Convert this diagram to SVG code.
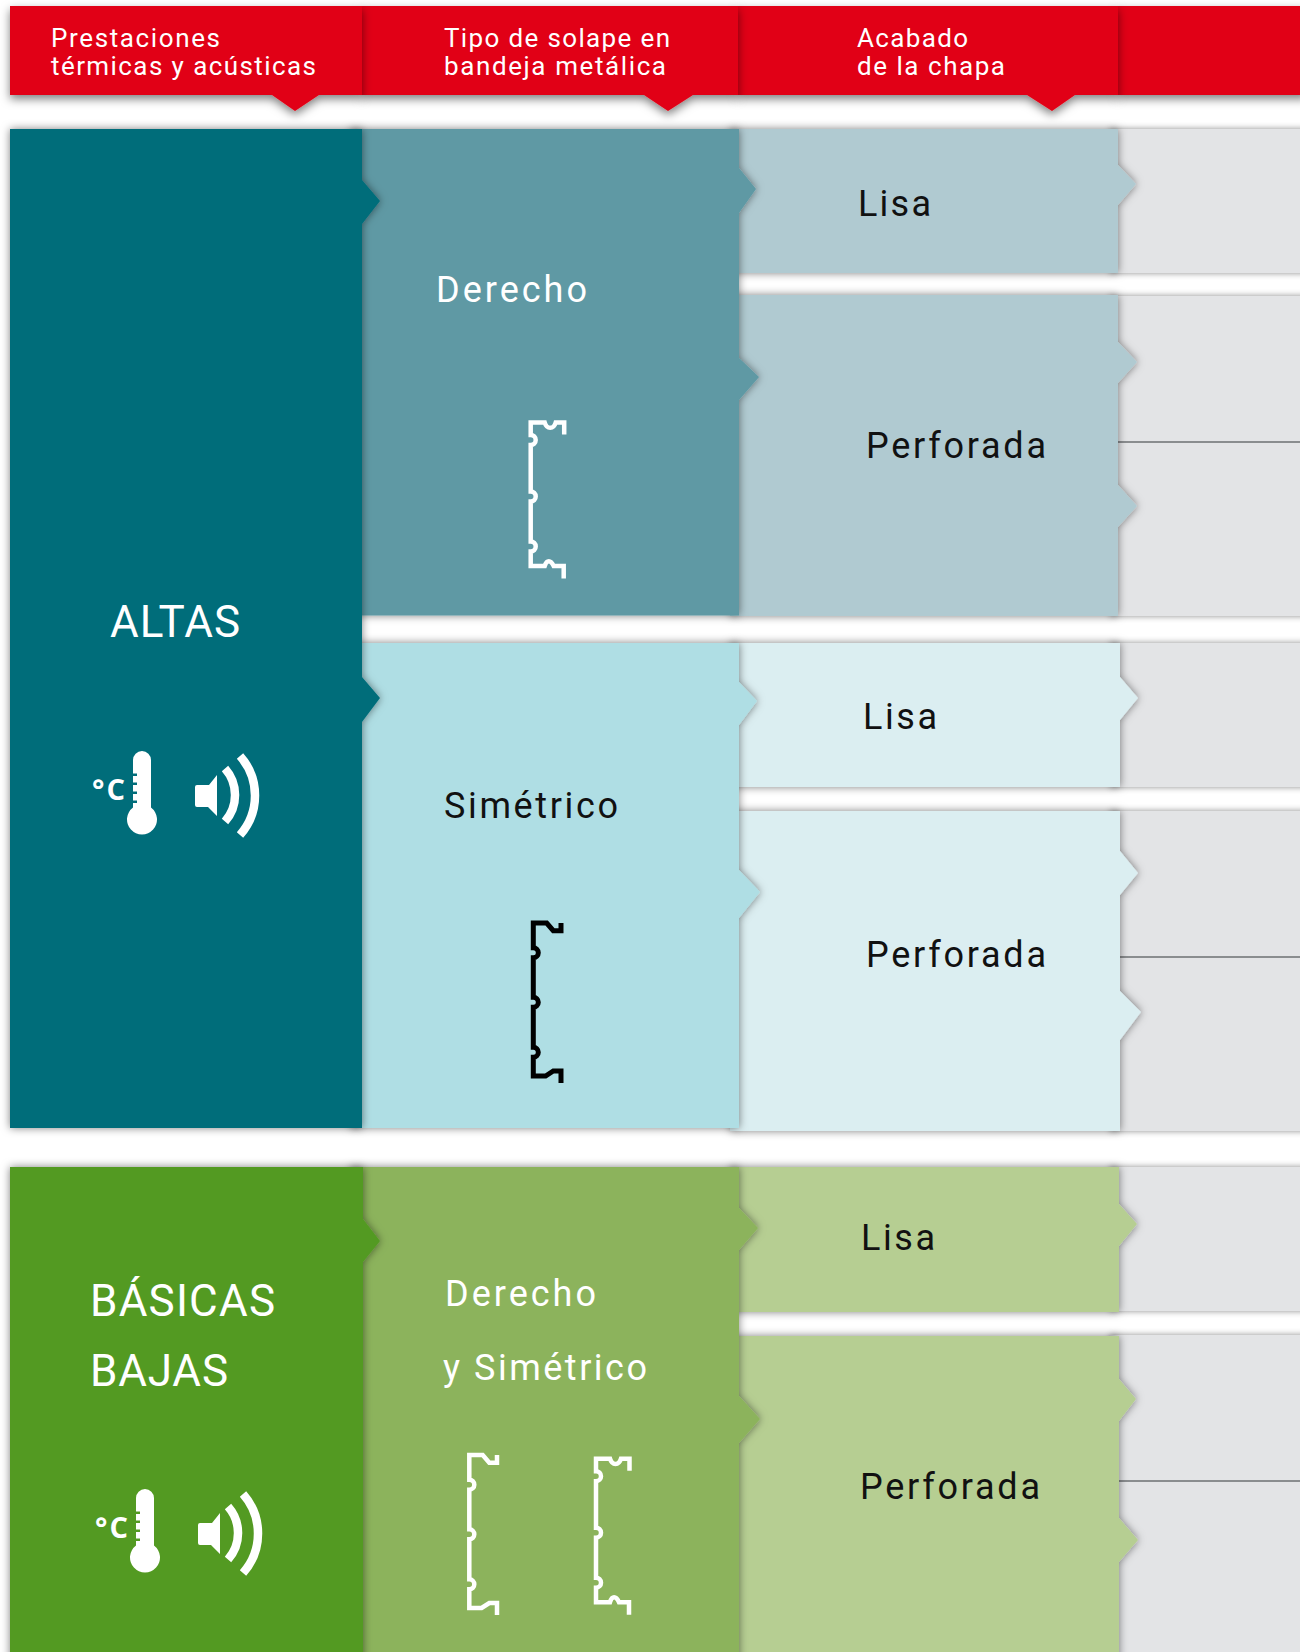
<svg xmlns="http://www.w3.org/2000/svg" width="1300" height="1652" viewBox="0 0 1300 1652">
<style>
text{font-family:"Roboto","Liberation Sans",sans-serif;font-weight:400;fill:#111}
.w{fill:#fff}
.h{font-size:26px}
.m{font-size:36px}
.b{font-size:44px}
.s{filter:url(#sh)}
.hd{fill:#e10015;filter:url(#shh)}
.gray{fill:#e3e4e6;filter:url(#shg)}
.p{fill:none;stroke-linejoin:miter;stroke-linecap:butt}
</style>
<defs>
<filter id="sh" x="-8%" y="-14%" width="116%" height="128%"><feDropShadow dx="0" dy="0" stdDeviation="4" flood-color="#000" flood-opacity=".5"/></filter>
<filter id="shg" x="-8%" y="-14%" width="116%" height="128%"><feDropShadow dx="0" dy="0" stdDeviation="3" flood-color="#000" flood-opacity=".45"/></filter>
<filter id="shh" x="-8%" y="-25%" width="116%" height="160%"><feDropShadow dx="0" dy="4" stdDeviation="5" flood-color="#000" flood-opacity=".5"/></filter>
<path id="profR" class="p" d="M33.500 12V0H25C23 7 16 7 14 0H0V12.500A5 5 0 0 1 0 22.500V69A5 5 0 0 1 0 79V119A5 5 0 0 1 0 129V143.500H14C16 137 20 137 23 143.500H33V156"/>
<path id="profS" class="p" d="M27.700 0V7.700H20L13.400 0H0V24.700A5 5 0 0 1 0 34.700V74.300A5 5 0 0 1 0 84.300V124.300A5 5 0 0 1 0 134.300V153H12.300L20 148H27.700V160"/>
<g id="icon" fill="#fff">
<path d="M142 751a9 9 0 0 1 9 9V807.500a15 15 0 1 1-18 0V803h4v-2.500h-4V794h4v-2.500h-4V785h4v-2.500h-4V776h4v-2.500h-4V760a9 9 0 0 1 9-9z"/>
<text x="92" y="800" style="font-family:'Open Sans','Liberation Sans',sans-serif;font-size:29px;fill:#fff;font-weight:700" textLength="33">°C</text>
<path d="M197 785h12l8-10v41l-9-9h-11a2 2 0 0 1-2-2v-18a2 2 0 0 1 2-2z"/>
<path d="M225 768.500A40 40 0 0 1 225 821.500M240 756A59.500 59.500 0 0 1 240 835" fill="none" stroke="#fff" stroke-width="8.500"/>
</g>
</defs>
<rect width="1300" height="1652" fill="#fff"/>

<g id="header">
<rect class="hd" x="1117" y="6" width="190" height="89"/>
<path class="hd" d="M737 6H1118V95H1075L1052 111L1027 95H737Z"/>
<path class="hd" d="M361 6H738V95H693L668 111L644 95H361Z"/>
<path class="hd" d="M10 6H362V95H319L295 111L272 95H10Z"/>
<text class="h w" x="51" y="46.700" textLength="169">Prestaciones</text>
<text class="h w" x="51" y="75" textLength="265">térmicas y acústicas</text>
<text class="h w" x="444" y="46.700" textLength="226">Tipo de solape en</text>
<text class="h w" x="444" y="75" textLength="222">bandeja metálica</text>
<text class="h w" x="857" y="46.700" textLength="111">Acabado</text>
<text class="h w" x="857" y="75" textLength="148">de la chapa</text>
</g>

<g id="gray-cells">
<rect class="gray" x="1110" y="129" width="200" height="144"/>
<rect class="gray" x="1110" y="296" width="200" height="320"/>
<rect class="gray" x="1110" y="643" width="200" height="144"/>
<rect class="gray" x="1110" y="811" width="200" height="320"/>
<rect class="gray" x="1110" y="1167" width="200" height="144"/>
<rect class="gray" x="1110" y="1335" width="200" height="330"/>
<rect x="1118" y="441" width="182" height="2" fill="#8a8d8f"/>
<rect x="1118" y="956" width="182" height="2" fill="#8a8d8f"/>
<rect x="1118" y="1480" width="182" height="2" fill="#8a8d8f"/>
</g>

<g id="acabado-lisa-1">
<path class="s" fill="#b0cad1" d="M730 129H1118V165L1136 184L1118 205V273H730Z"/>
<text class="m" x="858" y="216" textLength="73">Lisa</text>
</g>
<g id="acabado-perforada-1">
<path class="s" fill="#b0cad1" d="M730 295H1118V342L1137 362L1118 383V485L1137 506L1118 527V616H730Z"/>
<text class="m" x="866" y="458" textLength="180">Perforada</text>
</g>
<g id="acabado-lisa-2">
<path class="s" fill="#dbeef1" d="M730 643H1120V677L1138 698L1120 720V787H730Z"/>
<text class="m" x="863" y="729" textLength="74">Lisa</text>
</g>
<g id="acabado-perforada-2">
<path class="s" fill="#dbeef1" d="M730 811H1120V851L1138 873L1120 895V991L1141 1012L1120 1040V1131H730Z"/>
<text class="m" x="866" y="967" textLength="180">Perforada</text>
</g>
<g id="acabado-lisa-3">
<path class="s" fill="#b6ce92" d="M730 1167H1119V1204L1137 1224L1119 1246V1312H730Z"/>
<text class="m" x="861" y="1250" textLength="74">Lisa</text>
</g>
<g id="acabado-perforada-3">
<path class="s" fill="#b6ce92" d="M730 1336H1119V1379L1136 1399L1119 1421V1518L1138 1540L1119 1562V1670H730Z"/>
<text class="m" x="860" y="1499" textLength="180">Perforada</text>
</g>

<g id="solape-derecho">
<path class="s" fill="#5f99a4" d="M350 129H739V168L756 189L739 213V358L759 377L739 400V615.500H350Z"/>
<text class="m w" x="436" y="301.700" textLength="151">Derecho</text>
<use href="#profR" x="530.700" y="422.500" stroke="#fff" stroke-width="4.500"/>
</g>
<g id="solape-simetrico">
<path class="s" fill="#afdee4" d="M350 643H739V682L757 701L739 725V870L760 892L739 918V1128H350Z"/>
<text class="m" x="444" y="817.600" textLength="174">Simétrico</text>
<use href="#profS" x="533.300" y="923" stroke="#000" stroke-width="5"/>
</g>
<g id="solape-derecho-simetrico">
<path class="s" fill="#8cb35c" d="M350 1167H739V1208L758 1228L739 1250V1396L760 1419L739 1443V1670H350Z"/>
<text class="m w" x="445" y="1306" textLength="151">Derecho</text>
<text class="m w" x="443" y="1380" textLength="204">y Simétrico</text>
<use href="#profS" x="469.300" y="1455" stroke="#fff" stroke-width="4.500"/>
<use href="#profR" x="596" y="1458.700" stroke="#fff" stroke-width="4.500"/>
</g>

<g id="prestaciones-altas">
<path class="s" fill="#006d7a" d="M10 129H362V180L380 201L362 224V677L380 698L362 722V1128H10Z"/>
<text class="b w" x="110" y="636.500" textLength="130">ALTAS</text>
<use href="#icon"/>
</g>
<g id="prestaciones-basicas">
<path class="s" fill="#539a24" d="M10 1167H363V1219L380 1241L363 1262V1670H10Z"/>
<text class="b w" x="90" y="1316" textLength="185">BÁSICAS</text>
<text class="b w" x="90" y="1386" textLength="138">BAJAS</text>
<use href="#icon" x="3" y="738"/>
</g>
</svg>
